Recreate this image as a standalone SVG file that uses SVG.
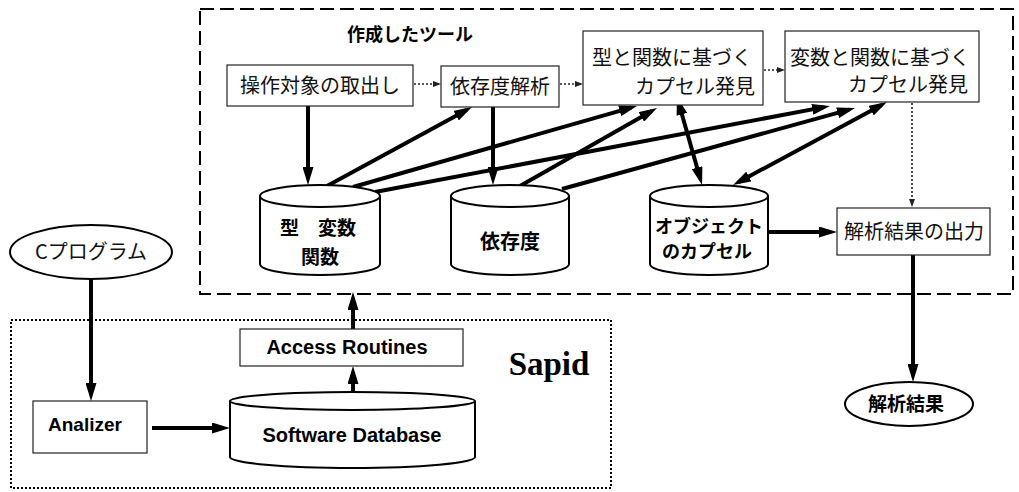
<svg xmlns="http://www.w3.org/2000/svg" width="1019" height="492" viewBox="0 0 1019 492">
<style>
.box{fill:#fff;stroke:#222;stroke-width:1.2}
.cyl{fill:#fff;stroke:#000;stroke-width:2}
.jp{font-family:"Noto Sans CJK JP","Noto Sans CJK SC",sans-serif;font-size:20px;fill:#111}
.jpb{font-family:"Noto Sans CJK JP","Noto Sans CJK SC",sans-serif;font-size:19px;font-weight:bold;fill:#000}
.en{font-family:"Liberation Sans",Arial,sans-serif;font-weight:bold;font-size:19px;fill:#000}
.thick{stroke:#000;stroke-width:4;fill:none}
.dot{stroke:#222;stroke-width:1.6;stroke-dasharray:2 2;fill:none}
</style>
<defs>
<marker id="ah" markerUnits="userSpaceOnUse" markerWidth="18" markerHeight="11" refX="12" refY="5.5" orient="auto-start-reverse" viewBox="0 0 18 11">
<path d="M0,0 L18,5.5 L0,11 z" fill="#000"/>
</marker>
<marker id="sh" markerUnits="userSpaceOnUse" markerWidth="8" markerHeight="6" refX="6" refY="3" orient="auto" viewBox="0 0 8 6">
<path d="M0,0 L8,3 L0,6 z" fill="#222"/>
</marker>
</defs>
<rect x="0" y="0" width="1019" height="492" fill="#fff"/>

<g id="tool-frame">
<rect x="200" y="9" width="813" height="285" fill="none" stroke="#000" stroke-width="2" stroke-dasharray="14 6"/>
<text x="410" y="41" text-anchor="middle" class="jpb" style="font-size:18px">作成したツール</text>
</g>

<g id="sapid-frame">
<rect x="11" y="320" width="600" height="168" fill="none" stroke="#000" stroke-width="2" stroke-dasharray="2 2"/>
<text x="549" y="375" text-anchor="middle" font-family="Liberation Serif,serif" font-weight="bold" font-size="33" fill="#000">Sapid</text>
</g>

<g id="connectors">
<line class="thick" x1="308" y1="106" x2="308" y2="179" marker-end="url(#ah)"/>
<line class="thick" x1="493" y1="107" x2="493" y2="179" marker-end="url(#ah)"/>
<line class="thick" x1="327" y1="186" x2="466.7" y2="109.9" marker-end="url(#ah)"/>
<line class="thick" x1="353" y1="187" x2="631.2" y2="107.6" marker-end="url(#ah)"/>
<line class="thick" x1="520" y1="186" x2="651.8" y2="111" marker-end="url(#ah)"/>
<line class="thick" x1="375" y1="192" x2="824.1" y2="107.1" marker-end="url(#ah)"/>
<line class="thick" x1="562" y1="189" x2="849.2" y2="109.6" marker-end="url(#ah)"/>
<line class="thick" x1="678.6" y1="102.8" x2="700.4" y2="179.2" marker-start="url(#ah)" marker-end="url(#ah)"/>
<line class="thick" x1="881.7" y1="104.9" x2="738.3" y2="182.2" marker-start="url(#ah)" marker-end="url(#ah)"/>
<line class="thick" x1="769" y1="232" x2="831" y2="232" marker-end="url(#ah)"/>
<line class="thick" x1="913" y1="255" x2="913" y2="376" marker-end="url(#ah)"/>
<line class="thick" x1="91" y1="280" x2="91" y2="395" marker-end="url(#ah)"/>
<line class="thick" x1="152" y1="428" x2="224" y2="428" marker-end="url(#ah)"/>
<line class="thick" x1="353" y1="402" x2="353" y2="372" marker-end="url(#ah)"/>
<line class="thick" x1="353" y1="329" x2="353" y2="298" marker-end="url(#ah)"/>
<line class="dot" x1="414" y1="84" x2="439" y2="84" marker-end="url(#sh)"/>
<line class="dot" x1="560" y1="84" x2="581" y2="84" marker-end="url(#sh)"/>
<line class="dot" x1="764" y1="70" x2="783" y2="70" marker-end="url(#sh)"/>
<line class="dot" x1="912" y1="103" x2="912" y2="205" marker-end="url(#sh)"/>
</g>

<g id="n-extract">
<rect class="box" x="227" y="65" width="186" height="41"/>
<text class="jp" x="320" y="93" text-anchor="middle">操作対象の取出し</text>
</g>
<g id="n-depana">
<rect class="box" x="441" y="66" width="118" height="41"/>
<text class="jp" x="500" y="94" text-anchor="middle">依存度解析</text>
</g>
<g id="n-typefunc">
<rect class="box" x="583" y="31" width="180" height="74"/>
<text class="jp" x="592" y="65">型と関数に基づく</text>
<text class="jp" x="755" y="94" text-anchor="end">カプセル発見</text>
</g>
<g id="n-varfunc">
<rect class="box" x="785" y="31" width="194" height="71"/>
<text class="jp" x="790" y="65">変数と関数に基づく</text>
<text class="jp" x="968" y="92" text-anchor="end">カプセル発見</text>
</g>
<g id="n-output">
<rect class="box" x="837" y="208" width="153" height="47"/>
<text class="jp" x="914" y="239" text-anchor="middle">解析結果の出力</text>
</g>

<g id="n-typevar">
<path class="cyl" d="M260,196 L260,264 A60,11 0 0 0 380,264 L380,196"/>
<ellipse class="cyl" cx="320" cy="196" rx="60" ry="11"/>
<text class="jpb" x="318" y="235" text-anchor="middle">型　変数</text>
<text class="jpb" x="320" y="264" text-anchor="middle">関数</text>
</g>
<g id="n-dep">
<path class="cyl" d="M451,196 L451,264 A59,11 0 0 0 569,264 L569,196"/>
<ellipse class="cyl" cx="510" cy="196" rx="59" ry="11"/>
<text class="jpb" x="510" y="249" text-anchor="middle" style="font-size:20px">依存度</text>
</g>
<g id="n-objcap">
<path class="cyl" d="M650,196 L650,264 A59,11 0 0 0 768,264 L768,196"/>
<ellipse class="cyl" cx="709" cy="196" rx="59" ry="11"/>
<text class="jpb" x="709" y="233" text-anchor="middle" style="font-size:18px">オブジェクト</text>
<text class="jpb" x="707" y="258" text-anchor="middle" style="font-size:18px">のカプセル</text>
</g>

<g id="n-cprog">
<ellipse cx="91" cy="252" rx="81" ry="27" fill="#fff" stroke="#000" stroke-width="2"/>
<text class="jp" x="91" y="259" text-anchor="middle">Cプログラム</text>
</g>
<g id="n-result">
<ellipse cx="909" cy="404" rx="64" ry="22" fill="#fff" stroke="#000" stroke-width="2"/>
<text class="jpb" x="906" y="411" text-anchor="middle">解析結果</text>
</g>

<g id="n-analizer">
<rect class="box" x="33" y="401" width="114" height="52"/>
<text class="en" x="85" y="431" text-anchor="middle">Analizer</text>
</g>
<g id="n-access">
<rect class="box" x="240" y="329" width="223" height="37"/>
<text class="en" x="347" y="354" text-anchor="middle" style="font-size:20px">Access Routines</text>
</g>
<g id="n-swdb">
<path class="cyl" d="M230,401 L230,457 A122.5,11 0 0 0 475,457 L475,401"/>
<ellipse class="cyl" cx="352.5" cy="401" rx="122.5" ry="9"/>
<text class="en" x="352" y="442" text-anchor="middle" style="font-size:20px">Software Database</text>
</g>
</svg>
